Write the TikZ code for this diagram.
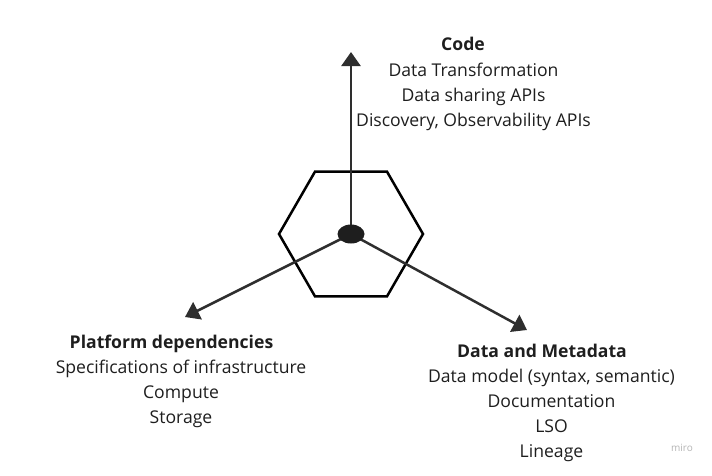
\documentclass[tikz,border=0pt]{standalone}
\usepackage{fontspec}
\setmainfont{Open Sans}
\usetikzlibrary{shapes.geometric,arrows.meta}
\definecolor{ink}{HTML}{1E1E1E}
\definecolor{lineink}{HTML}{2E2E2E}
\definecolor{wm}{HTML}{B4B4B4}
\begin{document}
\begin{tikzpicture}[x=1pt,y=-1pt,
  txt/.style={anchor=base,inner sep=0pt,text=ink,font=\fontsize{17.6}{25}\selectfont},
  ttl/.style={txt,font=\fontsize{17.6}{25}\selectfont\bfseries},
  axis/.style={draw=lineink,line width=2.5pt,-{Triangle[length=14pt,width=19pt]}},
  hexa/.style={regular polygon,regular polygon sides=6,minimum size=144pt,inner sep=0pt,draw=black,line width=2.5pt},
  hub/.style={ellipse,minimum width=27pt,minimum height=19pt,inner sep=0pt,fill=ink}]
\useasboundingbox (0,0) rectangle (712,475);
\coordinate (o) at (351,234);
\node[hexa] (hex) at (o) {};
\coordinate (tcode) at (351,52);
\coordinate (tplat) at (185,317);
\coordinate (tdata) at (527,330);
\draw[axis] (o) -- (tcode);
\draw[axis] (o) -- (tplat);
\draw[axis] (o) -- (tdata);
\node[hub] (dot) at (o) {};
% Code
\node[ttl] (c0) at (463,50.7) {Code};
\node[txt] (c1) at (473.5,76) {Data Transformation};
\node[txt] (c2) at (473.5,101.5) {Data sharing APIs};
\node[txt] (c3) at (473.5,126.5) {Discovery, Observability APIs};
% Platform
\node[ttl] (p0) at (171.5,348) {Platform dependencies};
\node[txt] (p1) at (181,373) {Specifications of infrastructure};
\node[txt] (p2) at (181,398) {Compute};
\node[txt] (p3) at (181,423) {Storage};
% Data
\node[ttl] (d0) at (542,357) {Data and Metadata};
\node[txt] (d1) at (551.5,382) {Data model (syntax, semantic)};
\node[txt] (d2) at (551.5,407) {Documentation};
\node[txt] (d3) at (551.5,432) {LSO};
\node[txt] (d4) at (551.5,457) {Lineage};
\node[anchor=base,inner sep=0pt,text=wm,font=\fontsize{10}{12}\selectfont] (wmk) at (682,451) {miro};
\end{tikzpicture}
\end{document}
